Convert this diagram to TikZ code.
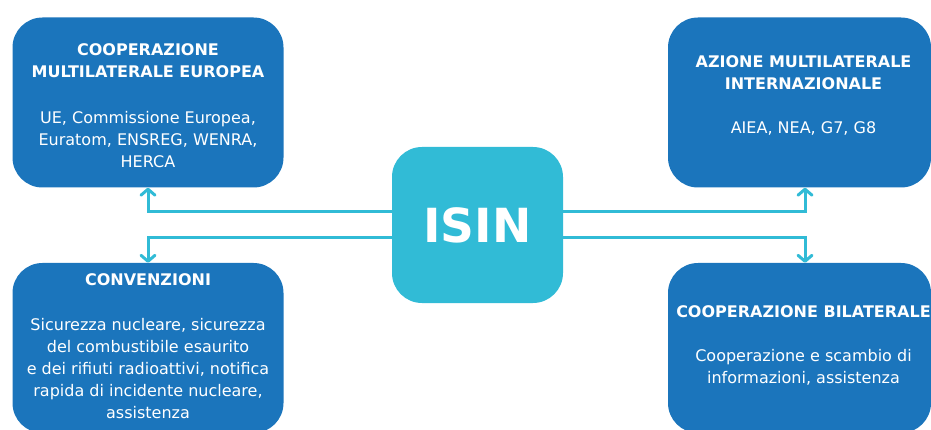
\documentclass[tikz,border=0pt]{standalone}
\usepackage{fontspec}
\setmainfont{DejaVu Sans}
\usetikzlibrary{arrows.meta,positioning}
\definecolor{isinblue}{RGB}{27,117,188}
\definecolor{isincyan}{RGB}{49,187,214}

\begin{document}
\begin{tikzpicture}[
    x=1pt,y=-1pt,
    box/.style={fill=isinblue,rounded corners=30pt,minimum width=271pt,minimum height=170pt,inner sep=0pt},
    hub/.style={fill=isincyan,rounded corners=30pt,minimum width=171pt,minimum height=156pt,text=white,font=\bfseries\fontsize{47}{50}\selectfont},
    txt/.style={text=white,align=center,inner sep=0pt,font=\fontsize{16}{22}\selectfont},
    arrow/.style={-{Straight Barb[length=6pt,width=14pt,line cap=round,line join=round]},line width=3pt,draw=isincyan,line cap=round}
  ]
    \clip (0,0) rectangle (931,430);

    \node[hub] (isin) at (477.5,225) {ISIN};
    \node[box] (ue) at (148,102.5) {};
    \node[box,minimum height=170pt] (conv) at (148,348) {};
    \node[box,minimum width=263pt] (ai) at (799.5,102.5) {};
    \node[box,minimum width=263pt] (bil) at (799.5,348) {};

    \node[txt,below=26pt of ue.north] (ue-text) {\textbf{COOPERAZIONE}\\\textbf{MULTILATERALE EUROPEA}\\[24pt]
      UE, Commissione Europea,\\Euratom, ENSREG, WENRA,\\HERCA};
    \node[txt,below=38pt of ai.north,xshift=4pt] (ai-text) {\textbf{AZIONE MULTILATERALE}\\\textbf{INTERNAZIONALE}\\[22pt]
      AIEA, NEA, G7, G8};
    \node[txt,below=11pt of conv.north] (conv-text) {\textbf{CONVENZIONI}\\[23pt]
      Sicurezza nucleare, sicurezza\\del combustibile esaurito\\e dei rifiuti radioattivi, notifica\\rapida di incidente nucleare,\\assistenza};
    \node[txt,below=43pt of bil.north,xshift=4pt] (bil-text) {\textbf{COOPERAZIONE BILATERALE}\\[22pt]
      Cooperazione e scambio di\\informazioni, assistenza};

    \draw[arrow] ([yshift=13pt]isin.west) -| (ue.south);
    \draw[arrow] ([yshift=-13pt]isin.west) -| (conv.north);
    \draw[arrow] ([yshift=13pt]isin.east) -| ([xshift=5.5pt]ai.south);
    \draw[arrow] ([yshift=-13pt]isin.east) -| ([xshift=5.5pt]bil.north);
  \end{tikzpicture}
\end{document}
